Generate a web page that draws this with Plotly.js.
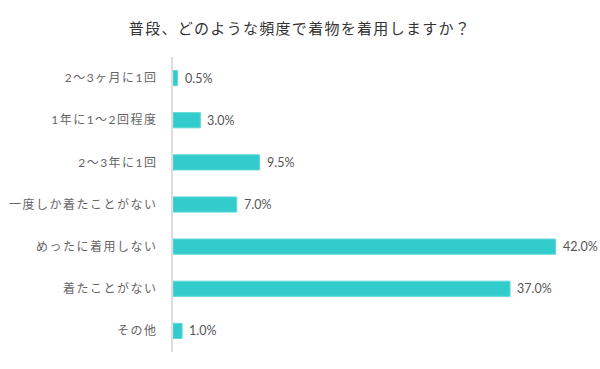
<!DOCTYPE html>
<html><head><meta charset="utf-8">
<script src="https://cdn.plot.ly/plotly-3.0.1.min.js"></script>
<style>
body{margin:0;background:#fff}
#chart .ytick text{letter-spacing:1.5px}
#chart .gtitle{letter-spacing:1.3px}
</style>
</head><body>
<div id="chart" style="width:600px;height:369px"></div>
<script>
const categories = ["2〜3ヶ月に1回","1年に1〜2回程度","2〜3年に1回","一度しか着たことがない","めったに着用しない","着たことがない","その他"];
const values = [0.5, 3.0, 9.5, 7.0, 42.0, 37.0, 1.0];
const valueLabels = values.map(v => v.toFixed(1) + "%");
const titleText = "普段、どのような頻度で着物を着用しますか？";

const trace = {
  type: "bar", orientation: "h",
  x: values, y: categories,
  width: 0.36,
  marker: {color: "#33CCCC", line: {color: "#5ed8d8", width: 1}},
  hoverinfo: "none"
};
const annotations = values.map((v, i) => ({
  x: v, y: categories[i], xref: "x", yref: "y",
  text: valueLabels[i], showarrow: false, xanchor: "left", xshift: 5,
  font: {family: "Lato, 'Noto Sans CJK JP', sans-serif", size: 12.5, color: "#555"}
}));
const layout = {
  width: 600, height: 369,
  margin: {l: 173, r: 8, t: 57, b: 17},
  paper_bgcolor: "#fff", plot_bgcolor: "#fff",
  title: {text: titleText, x: 0.5, xref: "container", xanchor: "center", y: 0.935, yref: "container",
    font: {family: "'Noto Sans CJK JP', sans-serif", size: 15, color: "#333"}},
  xaxis: {range: [0, 46], visible: false, fixedrange: true},
  yaxis: {type: "category", range: [6.5, -0.5], showline: true, linecolor: "#dddddd", linewidth: 2,
    showgrid: false, zeroline: false, ticks: "outside", ticklen: 11, tickcolor: "rgba(0,0,0,0)",
    tickfont: {family: "Lato, 'Noto Sans CJK JP', sans-serif", size: 12, color: "#666"}},
  annotations: annotations,
  showlegend: false
};
Plotly.newPlot("chart", [trace], layout, {displayModeBar: false, staticPlot: true});
</script>
</body></html>
